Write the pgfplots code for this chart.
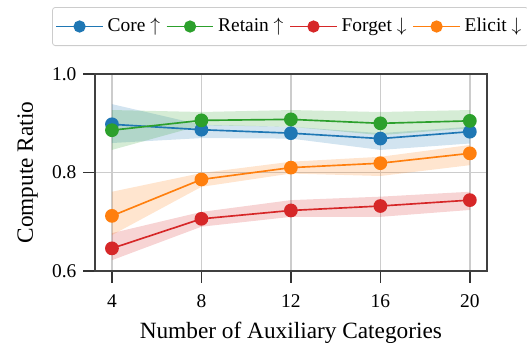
\documentclass[border=0pt]{standalone}
\usepackage{fontspec}
\setmainfont{Liberation Serif}
\usepackage{pgfplots}
\usepackage{pgfplotstable}
\pgfplotsset{compat=1.18}
\usepgfplotslibrary{fillbetween}
\definecolor{tabblue}{HTML}{1F77B4}
\definecolor{taborange}{HTML}{FF7F0E}
\definecolor{tabgreen}{HTML}{2CA02C}
\definecolor{tabred}{HTML}{D62728}
\pgfplotstableread{
x  core  corelo corehi retain retlo rethi forget forlo forhi elicit elilo elihi
4  0.898 0.860  0.939  0.886  0.846 0.927 0.646  0.622 0.677 0.712  0.673 0.761
8  0.887 0.870  0.897  0.906  0.896 0.923 0.706  0.690 0.720 0.786  0.771 0.799
12 0.880 0.869  0.893  0.908  0.893 0.927 0.723  0.710 0.744 0.810  0.798 0.822
16 0.869 0.846  0.880  0.900  0.876 0.923 0.732  0.710 0.751 0.819  0.793 0.832
20 0.883 0.859  0.893  0.905  0.890 0.927 0.744  0.724 0.761 0.839  0.815 0.856
}\data
\begin{document}
\begin{tikzpicture}
\begin{axis}[
  at={(0,0)}, anchor=south west,
  width=201bp, height=101bp, scale only axis,
  xmin=3.24, xmax=20.76, ymin=0.6, ymax=1.0,
  xtick={4,8,12,16,20}, ytick={0.6,0.8,1.0},
  yticklabel style={/pgf/number format/.cd, fixed, precision=1, fixed zerofill},
  /pgf/number format/assume math mode=true,
  tick label style={font=\rmfamily\fontsize{10}{12}\selectfont},
  xticklabel style={yshift=-2.5bp},
  label style={font=\rmfamily\fontsize{12}{14}\selectfont},
  xlabel={Number of Auxiliary Categories},
  ylabel={Compute Ratio},
  xlabel style={at={(axis description cs:0.5,0)}, anchor=base, yshift=-34.6bp},
  ylabel style={at={(axis description cs:-0.172,0.5)}, anchor=center},
  tick align=outside, major tick length=6bp,
  tick style={black!80, line width=0.7bp},
  xtick pos=bottom, ytick pos=left,
  axis line style={black!75, line width=0.9bp},
  grid=major, major grid style={black!20, line width=0.7bp},
  legend columns=4,
  legend style={at={(-0.1095,1.3406)}, anchor=north west, draw=black!20,
    rounded corners=1.5bp, font=\rmfamily\fontsize{10}{12}\selectfont,
    inner xsep=1.5bp, inner ysep=3.6bp,
    /tikz/every even column/.append style={column sep=1bp}},
  legend image code/.code={\draw[mark repeat=2,mark phase=2,mark size=2.7bp] plot coordinates {(0bp,0bp)(12bp,0bp)(24bp,0bp)};},
  every axis plot/.append style={line width=0.85bp},
  mark size=3.1bp,
]
% Core
\addplot[name path=cu, draw=none, forget plot] table[x=x,y=corehi]{\data};
\addplot[name path=cl, draw=none, forget plot] table[x=x,y=corelo]{\data};
\addplot[tabblue, fill opacity=0.2, draw=none, forget plot] fill between[of=cu and cl];
\addplot[tabblue, mark=*, mark options={fill=tabblue}] table[x=x,y=core]{\data};
\addlegendentry{Core $\uparrow$}
% Retain
\addplot[name path=ru, draw=none, forget plot] table[x=x,y=rethi]{\data};
\addplot[name path=rl, draw=none, forget plot] table[x=x,y=retlo]{\data};
\addplot[tabgreen, fill opacity=0.2, draw=none, forget plot] fill between[of=ru and rl];
\addplot[tabgreen, mark=*, mark options={fill=tabgreen}] table[x=x,y=retain]{\data};
\addlegendentry{Retain $\uparrow$}
% Forget
\addplot[name path=fu, draw=none, forget plot] table[x=x,y=forhi]{\data};
\addplot[name path=fl, draw=none, forget plot] table[x=x,y=forlo]{\data};
\addplot[tabred, fill opacity=0.2, draw=none, forget plot] fill between[of=fu and fl];
\addplot[tabred, mark=*, mark options={fill=tabred}] table[x=x,y=forget]{\data};
\addlegendentry{Forget $\downarrow$}
% Elicit
\addplot[name path=eu, draw=none, forget plot] table[x=x,y=elihi]{\data};
\addplot[name path=el, draw=none, forget plot] table[x=x,y=elilo]{\data};
\addplot[taborange, fill opacity=0.2, draw=none, forget plot] fill between[of=eu and el];
\addplot[taborange, mark=*, mark options={fill=taborange}] table[x=x,y=elicit]{\data};
\addlegendentry{Elicit $\downarrow$}
\end{axis}
\pgfresetboundingbox
\path (-48.7bp,-36.9bp) rectangle (221.6bp,139bp);
\end{tikzpicture}
\end{document}
